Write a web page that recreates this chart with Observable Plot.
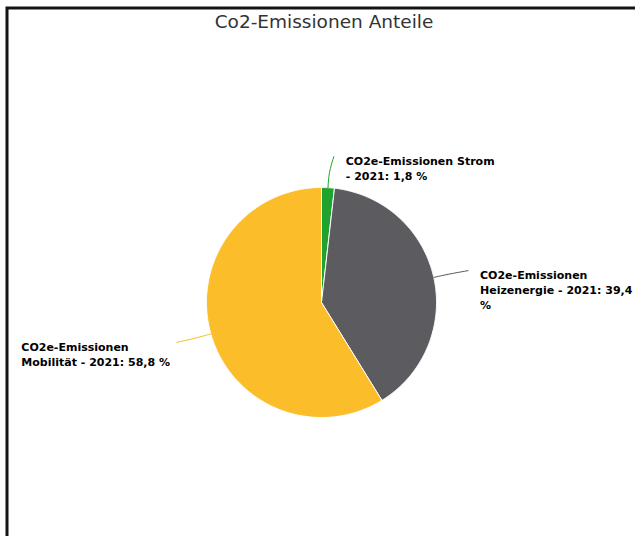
<!DOCTYPE html>
<html><head><meta charset="utf-8">
<script src="https://cdn.jsdelivr.net/npm/d3@7"></script>
<script src="https://cdn.jsdelivr.net/npm/@observablehq/plot@0.6"></script>
<style>
html,body{margin:0;padding:0;background:#fff;overflow:hidden;}
#chart{position:absolute;left:0;top:0;}
#title{position:absolute;left:0;top:11px;width:635px;padding-left:13px;box-sizing:border-box;text-align:center;font-family:"DejaVu Sans",sans-serif;font-size:18.5px;color:#333;line-height:22px;z-index:5;}
</style></head><body>
<div id="chart"></div><div id="title">Co2-Emissionen Anteile</div>
<script>
const categories = ["CO2e-Emissionen Strom", "CO2e-Emissionen Heizenergie", "CO2e-Emissionen Mobilität"];
const shares = [1.8, 39.4, 58.8];
const labelTexts = ["CO2e-Emissionen Strom\n- 2021: 1,8 %", "CO2e-Emissionen\nHeizenergie - 2021: 39,4\n%", "CO2e-Emissionen\nMobilität - 2021: 58,8 %"];
const colors = ["#1fa22e", "#5b5b60", "#fbbd29"];

// layout (pixels)
const W = 635, H = 536, CX = 321, CY = 302, R = 115;
const FONT = "bold 11px 'DejaVu Sans'";
const canvas = document.createElement("canvas").getContext("2d");
canvas.font = FONT;
const measure = s => Math.max(...s.split("\n").map(l => canvas.measureText(l).width));

const total = d3.sum(shares);
let acc = 0;
const slices = [], connectors = [], labels = [];
categories.forEach((cat, i) => {
  const a0 = acc / total * 2 * Math.PI;
  acc += shares[i];
  const a1 = acc / total * 2 * Math.PI;
  const n = Math.max(2, Math.ceil((a1 - a0) / (Math.PI / 360)));
  slices.push({cat, x: 0, y: 0});
  for (let k = 0; k <= n; k++) {
    const a = a0 + (a1 - a0) * k / n;
    slices.push({cat, x: Math.sin(a), y: Math.cos(a)});
  }
  slices.push({cat, x: 0, y: 0});
  const am = (a0 + a1) / 2;
  const side = Math.sin(am) >= 0 ? 1 : -1;
  const ex = 1.27 * Math.sin(am) + side * 4 / R, ey = 1.27 * Math.cos(am);
  connectors.push({cat, x: Math.sin(am), y: Math.cos(am)});
  connectors.push({cat, x: 1.13 * Math.sin(am), y: 1.13 * Math.cos(am)});
  connectors.push({cat, x: ex, y: ey});
  const w = measure(labelTexts[i]);
  const lx = side > 0 ? ex + 12 / R : ex - (7 + w) / R;
  labels.push({cat, text: labelTexts[i], x: lx, y: ey + 2 / R});
});

const chart = Plot.plot({
  width: W, height: H,
  marginLeft: 6.5, marginTop: 7.5, marginRight: 0, marginBottom: 0,
  x: {domain: [-1, 1], range: [CX - R, CX + R], axis: null},
  y: {domain: [-1, 1], range: [CY + R, CY - R], axis: null},
  color: {domain: categories, range: colors},
  style: {background: "#fff", overflow: "hidden"},
  marks: [
    Plot.frame({stroke: "#141414", strokeWidth: 3, insetRight: -20, insetBottom: -20}),
    Plot.line(slices, {x: "x", y: "y", z: "cat", fill: "cat", stroke: "#fff", strokeWidth: 1, strokeLinejoin: "round"}),
    Plot.line(connectors, {x: "x", y: "y", z: "cat", stroke: "cat", strokeWidth: 1, curve: "basis"}),
    Plot.text(labels, {x: "x", y: "y", text: "text", textAnchor: "start", lineAnchor: "top", lineHeight: 1.35,
      fontSize: 11, fontWeight: "bold", fontFamily: "DejaVu Sans", fill: "#000"})
  ]
});
document.getElementById("chart").append(chart);
</script>
</body></html>
